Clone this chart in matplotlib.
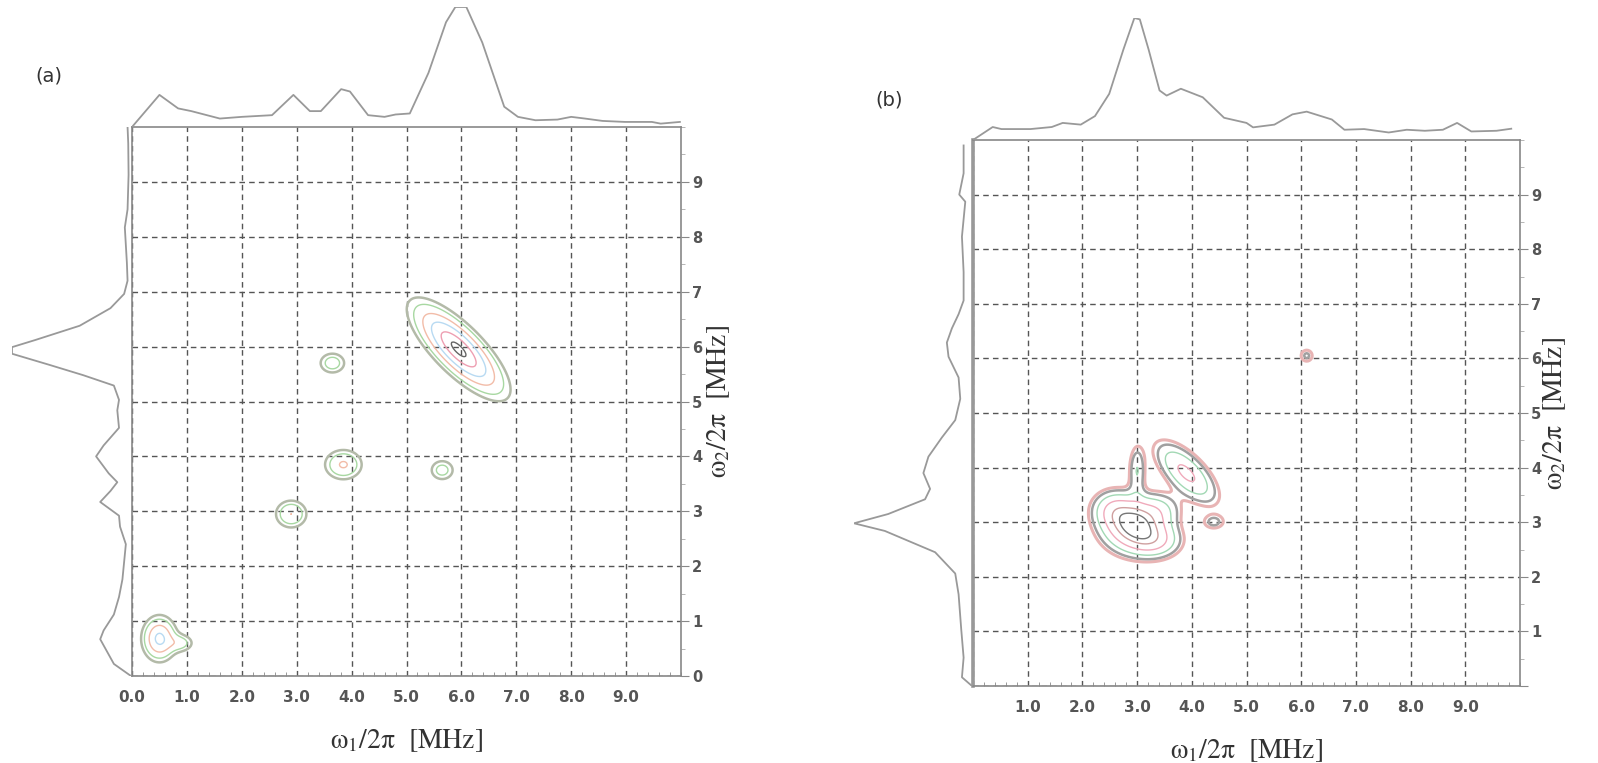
import numpy as np
import matplotlib
matplotlib.use("Agg")
import matplotlib.pyplot as plt
from matplotlib.ticker import MultipleLocator

plt.rcParams['mathtext.fontset'] = 'stix'

# projection traces (position in MHz, relative height)
top_a_x = [0.0, 0.5, 0.84, 1.08, 1.6, 2.0, 2.55, 2.94, 3.24, 3.44, 3.81, 3.97, 4.3, 4.6,
           4.8, 5.06, 5.4, 5.72, 5.89, 6.09, 6.38, 6.78, 7.03, 7.35, 7.75, 8.0, 8.25,
           8.57, 8.98, 9.47, 9.63, 9.98]
top_a_h = [0, 95, 55, 47, 25, 30, 35, 95, 47, 47, 112, 105, 35, 30, 37, 40, 160, 310,
           355, 355, 250, 60, 30, 20, 22, 30, 25, 18, 15, 15, 10, 15]

left_a_y = [0.0, 0.22, 0.67, 0.83, 1.12, 1.44, 1.76, 2.4, 2.72, 2.92, 3.17, 3.37, 3.53,
            3.69, 4.0, 4.2, 4.52, 4.84, 5.03, 5.29, 5.48, 5.67, 5.87, 5.99, 6.12, 6.38,
            6.7, 6.96, 7.2, 7.53, 8.17, 8.5, 9.13, 9.7, 10.0]
left_a_h = [3, 53, 93, 83, 53, 38, 28, 18, 35, 38, 93, 63, 43, 68, 105, 83, 38, 43, 38,
            53, 143, 243, 351, 351, 283, 153, 63, 23, 13, 15, 21, 13, 10, 11, 13]

top_b_x = [0.0, 0.36, 0.52, 1.05, 1.44, 1.64, 1.97, 2.23, 2.49, 2.75, 2.95, 3.05, 3.21,
           3.41, 3.54, 3.8, 4.2, 4.59, 5.0, 5.12, 5.51, 5.84, 6.1, 6.56, 6.79, 7.15, 7.6,
           7.93, 8.26, 8.59, 8.85, 9.11, 9.57, 9.84]
top_b_h = [0, 38, 32, 32, 38, 50, 45, 70, 135, 265, 357, 353, 265, 145, 130, 150, 125,
           65, 50, 37, 45, 75, 83, 60, 30, 32, 22, 30, 27, 30, 50, 25, 27, 33]

left_b_y = [0.0, 0.16, 0.52, 1.03, 1.68, 2.06, 2.45, 2.84, 2.98, 3.15, 3.42, 3.61, 3.9,
            4.2, 4.55, 4.87, 5.26, 5.65, 6.03, 6.29, 6.55, 6.81, 7.06, 7.58, 8.23, 8.87,
            9.0, 9.39, 9.9]
left_b_h = [3, 33, 28, 35, 43, 53, 113, 263, 355, 253, 143, 128, 148, 133, 93, 53, 38,
            43, 73, 78, 63, 43, 28, 28, 33, 23, 41, 28, 28]

# cross peaks: centre x, centre y, width along, width across, tilt (deg), amplitude
peaks_a_x = [5.95, 3.65, 3.85, 2.9, 5.65, 0.5, 0.88]
peaks_a_y = [5.95, 5.7, 3.85, 2.95, 3.75, 0.68, 0.6]
peaks_a_sa = [0.56, 0.15, 0.2, 0.17, 0.14, 0.17, 0.15]
peaks_a_sb = [0.2, 0.12, 0.16, 0.15, 0.12, 0.22, 0.1]
peaks_a_ang = [-45, 0, 0, 0, 0, 0, 0]
peaks_a_amp = [1.0, 0.22, 0.32, 0.3, 0.2, 0.55, 0.2]
levels_a = [0.08, 0.15, 0.3, 0.5, 0.75, 0.95]
colors_a = ['#b3baa8', '#a8d8a2', '#f2bca8', '#b8daf2', '#ee9fb2', '#666666']
widths_a = [1.8, 1.0, 1.0, 1.0, 1.0, 1.0]

peaks_b_x = [2.95, 2.55, 3.35, 3.0, 3.9, 3.45, 4.4, 6.1]
peaks_b_y = [2.95, 3.25, 2.65, 3.95, 3.9, 3.25, 3.0, 6.05]
peaks_b_sa = [0.36, 0.25, 0.3, 0.1, 0.45, 0.25, 0.15, 0.1]
peaks_b_sb = [0.3, 0.22, 0.2, 0.3, 0.2, 0.2, 0.1, 0.1]
peaks_b_ang = [0, 0, 0, 0, -45, 0, 0, 0]
peaks_b_amp = [1.0, 0.35, 0.4, 0.3, 0.55, 0.2, 0.2, 0.2]
levels_b = [0.12, 0.18, 0.3, 0.5, 0.75, 0.92]
colors_b = ['#e8b4b4', '#a0a0a0', '#a2d8b4', '#f0aabb', '#cfa0a0', '#777777']
widths_b = [2.2, 1.8, 1.0, 1.0, 1.0, 1.0]

W, H = 1598, 763


def box(left, top, width, height):
    return [left / W, (H - top - height) / H, width / W, height / H]


def peak_field(X, Y, px, py, sa, sb, ang, amp):
    Z = np.zeros_like(X)
    for cx, cy, a, b, t, m in zip(px, py, sa, sb, ang, amp):
        th = np.radians(t)
        dx, dy = X - cx, Y - cy
        u = dx * np.cos(th) + dy * np.sin(th)
        v = -dx * np.sin(th) + dy * np.cos(th)
        Z += m * np.exp(-(u ** 2 / (2 * a ** 2) + v ** 2 / (2 * b ** 2)))
    return Z


def style_main(ax, xlabels, ylabels, ypad):
    ax.set_xlim(0, 10)
    ax.set_ylim(0, 10)
    ax.set_xticks(range(10))
    ax.set_xticklabels(xlabels)
    ax.set_yticks(range(10))
    ax.set_yticklabels(ylabels)
    ax.xaxis.set_minor_locator(MultipleLocator(0.2))
    ax.yaxis.set_minor_locator(MultipleLocator(0.5))
    ax.yaxis.tick_right()
    ax.tick_params(axis='x', which='both', direction='in', colors='#888888',
                   labelcolor='#555555', labelsize=11, pad=10)
    ax.tick_params(axis='x', which='major', length=0)
    ax.tick_params(axis='x', which='minor', length=3)
    ax.tick_params(axis='y', which='major', direction='out', length=6,
                   colors='#888888', labelcolor='#555555', labelsize=10.5, pad=2)
    ax.tick_params(axis='y', which='minor', direction='out', length=3, colors='#aaaaaa')
    for lbl in ax.get_xticklabels() + ax.get_yticklabels():
        lbl.set_fontweight('bold')
    for s in ax.spines.values():
        s.set_color('#888888')
        s.set_linewidth(1.2)
    ax.grid(True, which='major', color='#555555', linestyle=(0, (4, 3)), linewidth=1.0)
    ax.set_axisbelow(True)
    ax.set_xlabel('ω$_1$/2π  [MHz]', fontsize=20, color='#333333', labelpad=16,
                  family='STIXGeneral')
    ax.yaxis.set_label_position('right')
    ax.set_ylabel('ω$_2$/2π  [MHz]', fontsize=20, color='#333333', family='STIXGeneral',
                  rotation=90, labelpad=ypad)


fig = plt.figure(figsize=(W / 100, H / 100), dpi=100)
grid = np.linspace(0, 10, 401)
X, Y = np.meshgrid(grid, grid)

# panel (a)
ax_a = fig.add_axes(box(132, 127, 549, 549))
style_main(ax_a, ['%.1f' % v for v in range(10)], [str(v) for v in range(10)], 2)
Za = peak_field(X, Y, peaks_a_x, peaks_a_y, peaks_a_sa, peaks_a_sb, peaks_a_ang, peaks_a_amp)
ax_a.contour(X, Y, Za, levels=levels_a, colors=colors_a, linewidths=widths_a)

top_a = fig.add_axes(box(132, 7, 549, 120))
top_a.plot(top_a_x, np.array(top_a_h) / max(top_a_h), color='#999999', lw=1.3)
top_a.set_xlim(0, 10)
top_a.set_ylim(0, 1)
top_a.axis('off')

left_a = fig.add_axes(box(12, 127, 120, 549))
left_a.plot(np.array(left_a_h) / max(left_a_h), left_a_y, color='#999999', lw=1.3)
left_a.set_xlim(1, 0)
left_a.set_ylim(0, 10)
left_a.axis('off')

fig.text(49 / W, 1 - 76 / H, '(a)', fontsize=14, color='#333333', ha='center', va='center')

# panel (b)
ax_b = fig.add_axes(box(973, 140, 547, 546))
style_main(ax_b, [''] + ['%.1f' % v for v in range(1, 10)], [''] + [str(v) for v in range(1, 10)], 0)
ax_b.spines['left'].set_linewidth(2.6)
ax_b.spines['left'].set_color('#999999')
Zb = peak_field(X, Y, peaks_b_x, peaks_b_y, peaks_b_sa, peaks_b_sb, peaks_b_ang, peaks_b_amp)
ax_b.contour(X, Y, Zb, levels=levels_b, colors=colors_b, linewidths=widths_b)

top_b = fig.add_axes(box(973, 18, 547, 122))
top_b.plot(top_b_x, np.array(top_b_h) / max(top_b_h), color='#999999', lw=1.3)
top_b.set_xlim(0, 10)
top_b.set_ylim(0, 1)
top_b.axis('off')

left_b = fig.add_axes(box(854, 140, 119, 546))
left_b.plot(np.array(left_b_h) / max(left_b_h), left_b_y, color='#999999', lw=1.3)
left_b.set_xlim(1, 0)
left_b.set_ylim(0, 10)
left_b.axis('off')

fig.text(889 / W, 1 - 100 / H, '(b)', fontsize=14, color='#333333', ha='center', va='center')

fig.savefig('out.png', dpi=100)
